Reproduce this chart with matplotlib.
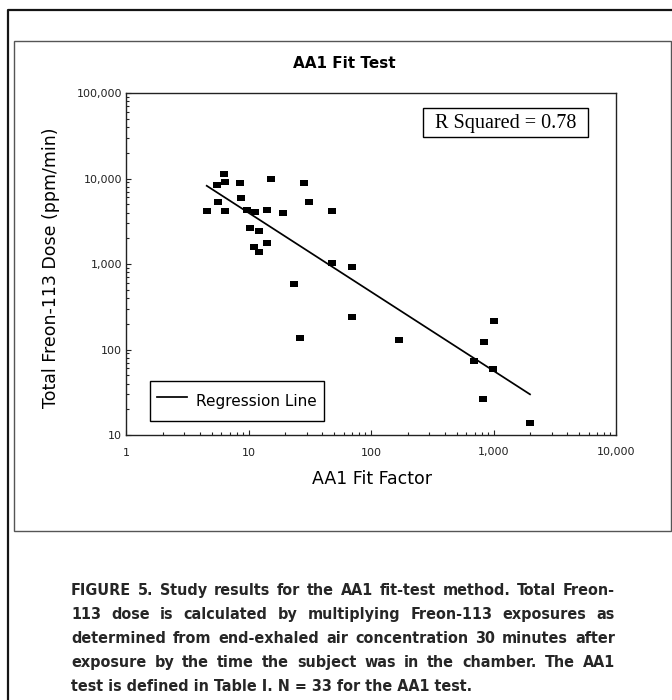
import matplotlib
matplotlib.use("Agg")
import matplotlib.pyplot as plt
from matplotlib import font_manager
from matplotlib.lines import Line2D
from matplotlib.patches import Rectangle
from matplotlib.ticker import LogLocator, NullFormatter

# valori (AA1 fit factor vs dose totale Freon-113)
fit_factor = [6.31, 6.43, 5.50, 8.52, 15.2, 28.4, 8.74, 5.60, 31.4, 4.56, 6.43,
              9.78, 11.2, 14.1, 19.2, 47.8, 10.2, 12.1, 14.2, 11.1, 12.2, 48.1,
              23.7, 69.5, 69.5, 26.5, 168, 1010, 841, 697, 991, 821, 1986]
freon_dose = [11380, 9180, 8400, 8790, 9800, 8790, 5910, 5310, 5310, 4130, 4130,
              4250, 4060, 4290, 3980, 4130, 2660, 2430, 1770, 1570, 1390, 1020,
              583, 929, 240, 135, 129, 215, 123, 72.8, 59.6, 26.2, 13.7]

# estremi della retta di regressione come disegnata
reg_x = [4.56, 1986]
reg_y = [8220, 29.9]

x_ticks = [1, 10, 100, 1000, 10000]
x_tick_labels = ["1", "10", "100", "1,000", "10,000"]
y_ticks = [10, 100, 1000, 10000, 100000]
y_tick_labels = ["10", "100", "1,000", "10,000", "100,000"]

title = "AA1 Fit Test"
x_label = "AA1 Fit Factor"
y_label = "Total Freon-113 Dose (ppm/min)"
legend_label = "Regression Line"
r_squared_text = "R Squared = 0.78"

caption_lines = [
    "FIGURE 5. Study results for the AA1 fit-test method. Total Freon-",
    "113 dose is calculated by multiplying Freon-113 exposures as",
    "determined from end-exhaled air concentration 30 minutes after",
    "exposure by the time the subject was in the chamber. The AA1",
    "test is defined in Table I. N = 33 for the AA1 test.",
]

W, H = 672, 700


def fx(px):
    return px / W


def fy(py):
    return 1 - py / H


def pick_caption_font():
    """Cerca un font sans stretto (narrow/condensed); altrimenti Liberation Sans."""
    fonts = font_manager.fontManager.ttflist
    names = {f.name for f in fonts}
    if "Liberation Sans Narrow" in names:
        return {"family": "Liberation Sans Narrow"}
    narrow = ("condensed", "semi-condensed", "extra-condensed", "ultra-condensed")
    preferred = ["DejaVu Sans", "Noto Sans", "Open Sans", "Roboto", "Roboto Condensed",
                 "Lato", "Inter", "Liberation Sans"]
    for fam in preferred:
        for f in fonts:
            if f.name == fam and str(f.stretch) in narrow:
                return {"family": fam, "stretch": f.stretch}
    for f in fonts:
        if ("Condensed" in f.name or "Narrow" in f.name) and "Serif" not in f.name:
            return {"family": f.name}
    return {"family": "Liberation Sans"}


fig = plt.figure(figsize=(W / 100, H / 100), dpi=100)
fig.patch.set_facecolor("white")

# cornici (esterna spessa, interna grigia)
fig.add_artist(Line2D([fx(7.7), fx(7.7), fx(680)], [fy(705), fy(9.7), fy(9.7)],
                      transform=fig.transFigure, color="#151515", lw=1.6))
fig.add_artist(Rectangle((fx(14.3), fy(531)), fx(671) - fx(14.3), fy(41) - fy(531),
                         transform=fig.transFigure, fill=False, ec="#555555", lw=1.0))

ax = fig.add_axes([fx(126), fy(435), fx(616) - fx(126), fy(93) - fy(435)])
ax.set_xscale("log")
ax.set_yscale("log")
ax.set_xlim(1, 10000)
ax.set_ylim(10, 100000)

line, = ax.plot(reg_x, reg_y, color="black", lw=1.25, zorder=2, label=legend_label)
rect_marker = [(-0.73, -0.5), (0.73, -0.5), (0.73, 0.5), (-0.73, 0.5), (-0.73, -0.5)]
ax.plot(fit_factor, freon_dose, linestyle="none", marker=rect_marker, ms=5.4,
        mew=0, color="black", zorder=3)

ax.set_xticks(x_ticks, x_tick_labels)
ax.set_yticks(y_ticks, y_tick_labels)
ax.xaxis.set_minor_locator(LogLocator(base=10, subs=range(2, 10)))
ax.yaxis.set_minor_locator(LogLocator(base=10, subs=range(2, 10)))
ax.xaxis.set_minor_formatter(NullFormatter())
ax.yaxis.set_minor_formatter(NullFormatter())
ax.tick_params(which="both", direction="in", width=0.8, colors="#222222")
ax.tick_params(which="major", length=3.6, labelsize=8)
ax.tick_params(which="minor", length=2.2)
ax.tick_params(axis="x", which="major", pad=9)
ax.tick_params(axis="y", which="major", pad=3)
for sp in ax.spines.values():
    sp.set_linewidth(1.0)
    sp.set_color("#222222")

ax.set_xlabel(x_label, fontsize=12.5)
ax.xaxis.set_label_coords(0.502, -0.102)
ax.set_ylabel(y_label, fontsize=12.5)
ax.yaxis.set_label_coords(-0.135, 0.49)

leg = ax.legend(handles=[line], loc="lower left", bbox_to_anchor=(0.049, 0.041),
                borderaxespad=0, fancybox=False, edgecolor="black", framealpha=1,
                fontsize=11, handlelength=1.96, handleheight=2.2, borderpad=0.46,
                handletextpad=0.6)
leg.get_frame().set_linewidth(1.0)

# riquadro R^2
ax.add_patch(Rectangle((0.606, 0.871), 0.337, 0.085, transform=ax.transAxes,
                       facecolor="white", edgecolor="black", lw=1.0, zorder=4))
ax.text(0.7745, 0.912, r_squared_text, transform=ax.transAxes, ha="center",
        va="center", family="Liberation Serif", fontsize=14.5, zorder=5)

fig.text(fx(344), fy(63), title, ha="center", va="center", fontsize=11,
         fontweight="bold")

# didascalia giustificata parola per parola
cap_font = pick_caption_font()
cap_x0, cap_x1 = 71, 615
baselines = [595, 619, 643, 667, 691]
renderer = fig.canvas.get_renderer()

size = 13.0
probe = [fig.text(0, 0, l, fontsize=size, fontweight="bold", **cap_font)
         for l in caption_lines[:4]]
max_w = max(t.get_window_extent(renderer).width for t in probe)
for t in probe:
    t.remove()
if max_w > (cap_x1 - cap_x0) * 0.97:
    size = size * (cap_x1 - cap_x0) * 0.97 / max_w

for i, (txt, yb) in enumerate(zip(caption_lines, baselines)):
    if i == len(caption_lines) - 1:
        fig.text(fx(cap_x0), fy(yb), txt, fontsize=size, fontweight="bold",
                 color="#262626", va="baseline", ha="left", **cap_font)
        continue
    words = txt.split(" ")
    objs = [fig.text(0, fy(yb), w, fontsize=size, fontweight="bold",
                     color="#262626", va="baseline", ha="left", **cap_font)
            for w in words]
    widths = [o.get_window_extent(renderer).width for o in objs]
    gap = ((cap_x1 - cap_x0) - sum(widths)) / (len(words) - 1)
    x = cap_x0
    for o, w in zip(objs, widths):
        o.set_x(fx(x))
        x += w + gap

fig.savefig("out.png", dpi=100, facecolor="white")
